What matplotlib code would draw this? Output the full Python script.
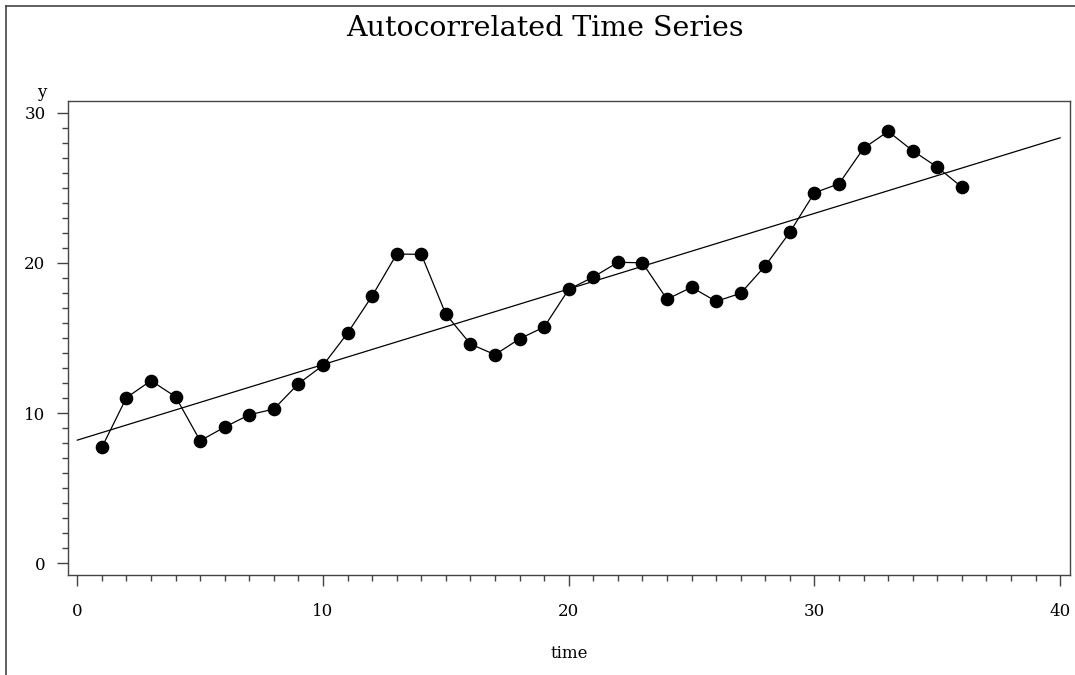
import numpy as np
import matplotlib.pyplot as plt
from matplotlib.ticker import MultipleLocator
from matplotlib.lines import Line2D

# Série temporal autocorrelacionada (t = 1..36)
time = np.arange(1, 37)
y = np.array([7.72, 11.03, 12.16, 11.09, 8.16, 9.07, 9.89, 10.27, 11.96, 13.18,
              15.33, 17.80, 20.59, 20.57, 16.58, 14.60, 13.89, 14.95, 15.73, 18.24,
              19.06, 20.04, 20.01, 17.58, 18.38, 17.44, 17.98, 19.81, 22.04, 24.67,
              25.27, 27.63, 28.76, 27.47, 26.38, 25.05])

# Reta de tendência ajustada por mínimos quadrados
slope, intercept = np.polyfit(time, y, 1)
x_fit = np.array([0, 40])
y_fit = intercept + slope * x_fit

plt.rcParams['font.family'] = 'DejaVu Serif'

fig = plt.figure(figsize=(10.75, 6.75), dpi=100)
ax = fig.add_axes([0.063, 0.1481, 0.9323, 0.7027])

ax.plot(x_fit, y_fit, color='black', lw=0.9)
ax.plot(time, y, color='black', lw=0.9, marker='o', markersize=8.8)

ax.set_xlim(-0.39, 40.4)
ax.set_ylim(-0.78, 30.8)
ax.xaxis.set_major_locator(MultipleLocator(10))
ax.xaxis.set_minor_locator(MultipleLocator(1))
ax.yaxis.set_major_locator(MultipleLocator(10))
ax.yaxis.set_minor_locator(MultipleLocator(1))
ax.tick_params(which='major', direction='out', length=8, width=1, color='#444444',
               labelsize=12, pad=12)
ax.tick_params(which='minor', direction='out', length=4, width=1, color='#444444')
ax.tick_params(axis='y', which='major', pad=8)
for s in ax.spines.values():
    s.set_color('#444444')
    s.set_linewidth(1)

ax.set_xlabel('time', fontsize=12, labelpad=18)
fig.text(0.039, 0.863, 'y', fontsize=12, ha='center', va='center')
fig.text(0.507, 0.958, 'Autocorrelated Time Series', fontsize=20.5,
         ha='center', va='center')

# moldura externa (topo e esquerda)
fig.add_artist(Line2D([0.0056, 1.0], [0.9907, 0.9907], color='#444444', lw=1.2))
fig.add_artist(Line2D([0.0056, 0.0056], [0.0, 0.9907], color='#444444', lw=1.2))

fig.savefig('out.png', dpi=100)
